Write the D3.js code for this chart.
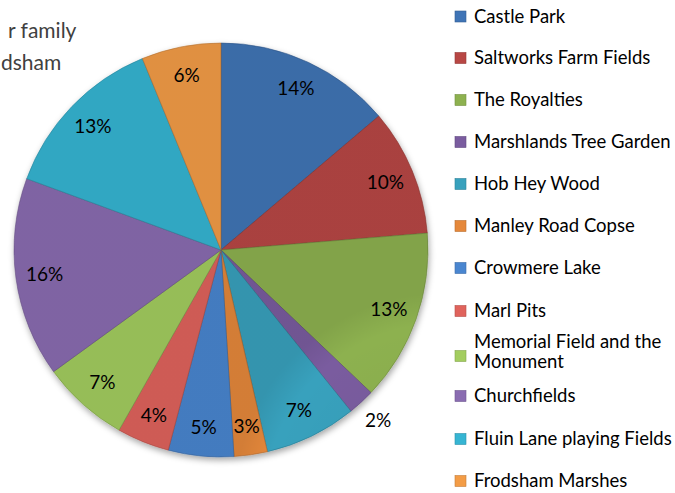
<!DOCTYPE html>
<html lang="en">
<head>
    <meta charset="UTF-8">
    <title>Parks for family walks in Frodsham</title>
    <script src="https://d3js.org/d3.v7.min.js"></script>
    <style>
        body {
            margin: 0;
            background-color: #ffffff;
            font-family: Lato, "Open Sans", sans-serif;
        }
        .title {
            font-size: 21px;
            fill: #404040;
        }
        .pct {
            font-size: 19px;
            fill: #000000;
        }
        .legend text {
            font-size: 18.5px;
            fill: #000000;
        }
    </style>
</head>
<body>
    <div id="chart"></div>

    <script>
        // Data
        var places = ["Castle Park", "Saltworks Farm Fields", "The Royalties", "Marshlands Tree Garden",
                      "Hob Hey Wood", "Manley Road Copse", "Crowmere Lake", "Marl Pits",
                      "Memorial Field and the Monument", "Churchfields", "Fluin Lane playing Fields",
                      "Frodsham Marshes"];
        var shares = [13.8, 9.9, 13.4, 2.1, 7.2, 2.6, 5.1, 4.1, 6.8, 15.6, 13.2, 6.2];
        var colours = ["#3f74b6", "#b84744", "#8db14f", "#7a5c9f", "#38a1bd", "#e5883b",
                       "#4a86d0", "#e0635c", "#a3cd5f", "#8a6cb1", "#36b5d3", "#f39c46"];
        var titleLines = ["r family", "dsham"];

        var width = 675, height = 493;
        var cx = 221, cy = 250, radius = 207;

        var svg = d3.select("#chart").append("svg")
            .attr("width", width)
            .attr("height", height);

        var defs = svg.append("defs");

        // drop shadow under the pie
        var shadow = defs.append("filter")
            .attr("id", "shadow")
            .attr("x", "-10%").attr("y", "-10%")
            .attr("width", "120%").attr("height", "120%");
        shadow.append("feDropShadow")
            .attr("dx", 1).attr("dy", 3)
            .attr("stdDeviation", 3)
            .attr("flood-color", "#000")
            .attr("flood-opacity", 0.35);

        // soft shading over whole pie
        var shade = defs.append("radialGradient")
            .attr("id", "shade")
            .attr("gradientUnits", "userSpaceOnUse")
            .attr("cx", cx).attr("cy", cy).attr("r", radius);
        shade.append("stop").attr("offset", "0%").attr("stop-color", "#000").attr("stop-opacity", 0.06);
        shade.append("stop").attr("offset", "85%").attr("stop-color", "#000").attr("stop-opacity", 0);
        shade.append("stop").attr("offset", "100%").attr("stop-color", "#000").attr("stop-opacity", 0.08);

        // Title (only the visible right-hand part of the source title)
        svg.selectAll(".title")
            .data(titleLines)
            .enter().append("text")
            .attr("class", "title")
            .attr("x", function(d, i) { return i === 0 ? 8 : 1; })
            .attr("y", function(d, i) { return 38 + i * 32; })
            .text(function(d) { return d; });

        var pie = d3.pie().sort(null).value(function(d) { return d; });
        var arcs = pie(shares);
        var total = d3.sum(shares);

        var arc = d3.arc().innerRadius(0).outerRadius(radius);
        var labelArc = d3.arc().innerRadius(178).outerRadius(178);
        var outsideArc = d3.arc().innerRadius(232).outerRadius(232);

        var g = svg.append("g")
            .attr("transform", "translate(" + cx + "," + cy + ")");

        var slices = g.append("g").attr("filter", "url(#shadow)");

        arcs.forEach(function(a, i) {
            defs.append("clipPath")
                .attr("id", "clip" + i)
                .attr("transform", "translate(" + cx + "," + cy + ")")
                .append("path")
                .attr("d", arc(a));
        });

        var slice = slices.selectAll(".slice")
            .data(arcs)
            .enter().append("g")
            .attr("class", "slice");

        slice.append("path")
            .attr("d", arc)
            .attr("fill", function(d, i) { return colours[i]; });

        // bevel: light inner edge, clipped to each slice
        slice.append("path")
            .attr("d", arc)
            .attr("fill", "none")
            .attr("clip-path", function(d, i) { return "url(#clip" + i + ")"; })
            .attr("stroke", function(d, i) { return d3.color(colours[i]).brighter(0.7); })
            .attr("stroke-width", 8)
            .attr("stroke-opacity", 0.6);

        slice.append("path")
            .attr("d", arc)
            .attr("fill", "none")
            .attr("stroke", function(d, i) { return d3.color(colours[i]).darker(0.8); })
            .attr("stroke-width", 0.8)
            .attr("stroke-opacity", 0.7);

        g.append("circle")
            .attr("r", radius)
            .attr("fill", "url(#shade)")
            .attr("pointer-events", "none");

        // percentage labels
        g.selectAll(".pct")
            .data(arcs)
            .enter().append("text")
            .attr("class", "pct")
            .attr("text-anchor", "middle")
            .attr("dy", "0.35em")
            .attr("transform", function(d) {
                var small = (d.value / total) < 0.025;
                var p = small ? outsideArc.centroid(d) : labelArc.centroid(d);
                return "translate(" + p + ")";
            })
            .text(function(d) { return Math.round(d.value / total * 100) + "%"; });

        // legend
        var legendY = [16.5, 58, 100, 142, 184, 226, 268, 311, 356, 396, 439, 481];
        var legend = svg.append("g").attr("class", "legend");

        var item = legend.selectAll("g")
            .data(places)
            .enter().append("g")
            .attr("transform", function(d, i) { return "translate(455," + legendY[i] + ")"; });

        item.append("rect")
            .attr("x", 0).attr("y", -5.5)
            .attr("width", 11).attr("height", 11)
            .attr("fill", function(d, i) { return colours[i]; })
            .attr("stroke", function(d, i) { return d3.color(colours[i]).darker(0.6); })
            .attr("stroke-width", 0.6);

        item.each(function(d) {
            var sel = d3.select(this);
            if (d === "Memorial Field and the Monument") {
                sel.append("text").attr("x", 19).attr("y", -8).text("Memorial Field and the");
                sel.append("text").attr("x", 19).attr("y", 12).text("Monument");
            } else {
                sel.append("text").attr("x", 19).attr("y", 6).text(d);
            }
        });
    </script>
</body>
</html>
